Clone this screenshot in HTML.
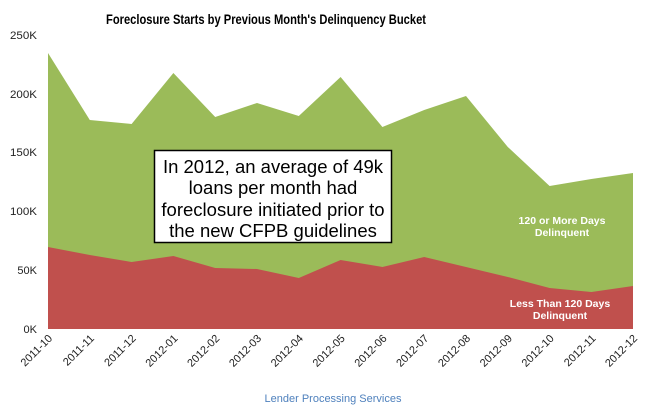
<!DOCTYPE html>
<html><head><meta charset="utf-8"><style>
html,body{margin:0;padding:0;background:#fff;width:650px;height:408px;overflow:hidden}
</style></head><body>
<svg width="650" height="408" xmlns="http://www.w3.org/2000/svg" font-family="Liberation Sans, sans-serif">
<text x="266" y="24" font-size="14" font-weight="bold" text-anchor="middle" textLength="320" lengthAdjust="spacingAndGlyphs" fill="#000">Foreclosure Starts by Previous Month's Delinquency Bucket</text>
<g font-size="11" fill="#222" text-anchor="end">
<text x="37" y="39" textLength="27" lengthAdjust="spacingAndGlyphs">250K</text>
<text x="37" y="98" textLength="27" lengthAdjust="spacingAndGlyphs">200K</text>
<text x="37" y="156" textLength="27" lengthAdjust="spacingAndGlyphs">150K</text>
<text x="37" y="215" textLength="27" lengthAdjust="spacingAndGlyphs">100K</text>
<text x="37" y="274">50K</text>
<text x="37" y="333">0K</text>
</g>
<polygon fill="#9BBB59" points="48,53 89.8,120 131.6,124 173.4,73 215.2,117 257,103 298.8,116 340.6,77 382.4,127 424.2,110 466,96 507.8,147 549.6,186 591.4,179 633,173 633,329 48,329"/>
<polygon fill="#C0504D" points="48,247 89.8,255 131.6,262 173.4,256 215.2,268 257,269 298.8,278 340.6,260 382.4,267 424.2,257 466,267 507.8,277 549.6,288 591.4,292 633,286 633,329 48,329"/>
<rect x="154.5" y="150.5" width="237" height="92" fill="#fff" stroke="#000" stroke-width="1.5"/>
<g font-size="18.5" text-anchor="middle" fill="#000">
<text x="273" y="173">In 2012, an average of 49k</text>
<text x="273" y="194">loans per month had</text>
<text x="273" y="216">foreclosure initiated prior to</text>
<text x="273" y="237">the new CFPB guidelines</text>
</g>
<g font-size="10.5" font-weight="bold" fill="#fff" text-anchor="middle">
<text x="562" y="224">120 or More Days</text>
<text x="562" y="236">Delinquent</text>
<text x="560" y="307">Less Than 120 Days</text>
<text x="560" y="319">Delinquent</text>
</g>
<g font-size="11" fill="#222" text-anchor="end">
<text transform="translate(53,339) rotate(-45)">2011-10</text>
<text transform="translate(94.8,339) rotate(-45)">2011-11</text>
<text transform="translate(136.6,339) rotate(-45)">2011-12</text>
<text transform="translate(178.4,339) rotate(-45)">2012-01</text>
<text transform="translate(220.2,339) rotate(-45)">2012-02</text>
<text transform="translate(262,339) rotate(-45)">2012-03</text>
<text transform="translate(303.8,339) rotate(-45)">2012-04</text>
<text transform="translate(345.6,339) rotate(-45)">2012-05</text>
<text transform="translate(387.4,339) rotate(-45)">2012-06</text>
<text transform="translate(429.2,339) rotate(-45)">2012-07</text>
<text transform="translate(471,339) rotate(-45)">2012-08</text>
<text transform="translate(512.8,339) rotate(-45)">2012-09</text>
<text transform="translate(554.6,339) rotate(-45)">2012-10</text>
<text transform="translate(596.4,339) rotate(-45)">2012-11</text>
<text transform="translate(638,339) rotate(-45)">2012-12</text>
</g>
<text x="333" y="402" font-size="11" fill="#4F81BD" text-anchor="middle">Lender Processing Services</text>
</svg>
</body></html>
